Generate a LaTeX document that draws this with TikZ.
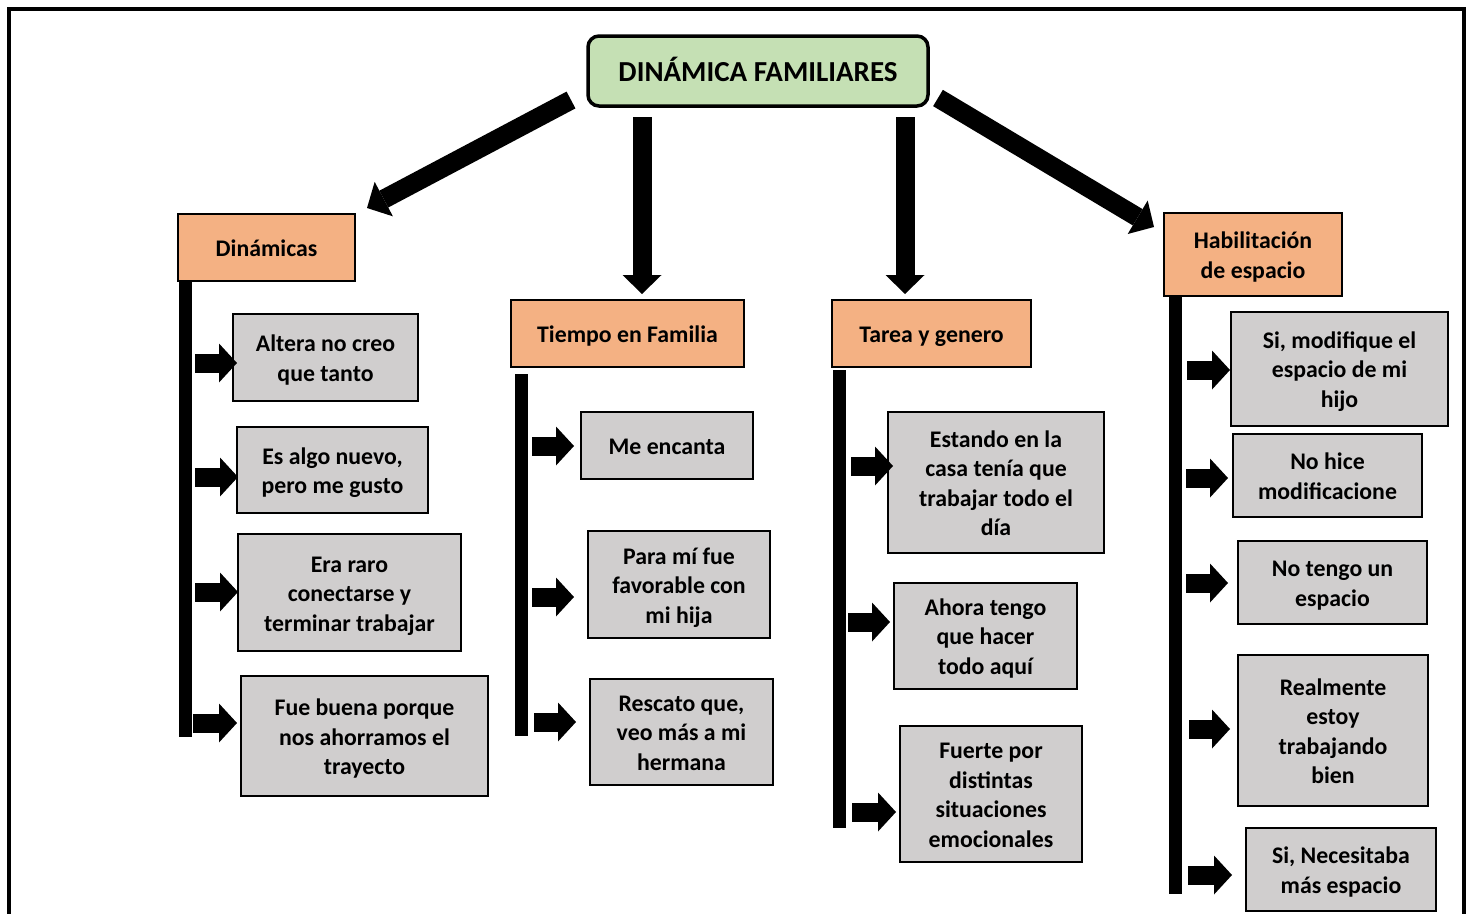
\documentclass[tikz,border=0pt]{standalone}
\usepackage{fontspec}
\setmainfont{Carlito}
\usetikzlibrary{arrows.meta}
\definecolor{gboxc}{HTML}{D0CECE}
\definecolor{oboxc}{HTML}{F4B183}
\definecolor{tboxc}{HTML}{C5E0B4}
\newcommand{\FTop}{\rule{0pt}{25pt}}
\newcommand{\FBot}{\rule[-7pt]{0pt}{7pt}}
\newcommand{\TTop}{\rule{0pt}{27pt}}
\begin{document}
\begin{tikzpicture}[x=1pt,y=-1pt,
  txt/.style={font=\fontsize{23.8}{29.5}\selectfont\bfseries, align=center, inner sep=0pt, text=black},
  gbox/.style={txt, draw=black, line width=2pt, fill=gboxc},
  obox/.style={txt, draw=black, line width=2pt, fill=oboxc},
  tbox/.style={font=\fontsize{29}{35}\selectfont\bfseries, align=center, inner sep=0pt, draw=black, line width=3.5pt, fill=tboxc, rounded corners=11pt},
  bigarrow/.style={line width=19pt, -{Triangle[length=19pt,width=39pt,line width=0pt]}},
  smallarrow/.style={line width=19pt, -{Triangle[length=18pt,width=39pt,line width=0pt]}},
  colbar/.style={line width=13pt},
  frameline/.style={line width=4pt}
]
\useasboundingbox (0,0) rectangle (1472,913);
\clip (0,0) rectangle (1472,913);

% frame
\draw[frameline] (9,930) -- (9,9) -- (1464,9) -- (1464,930);

% title
\node[tbox, minimum width=340pt, minimum height=70pt] (title) at (758,71) {\TTop DINÁMICA FAMILIARES\FBot};

% categories
\node[obox, minimum width=177pt, minimum height=67pt] (cat1) at (266.5,247.5) {\FTop Dinámicas\FBot};
\node[obox, minimum width=233pt, minimum height=67pt] (cat2) at (627.5,333.5) {\FTop Tiempo en Familia\FBot};
\node[obox, minimum width=199pt, minimum height=67pt] (cat3) at (931.5,333.5) {\FTop Tarea y genero\FBot};
\node[obox, minimum width=178pt, minimum height=83pt] (cat4) at (1253,254.5) {\FTop Habilitación\\de espacio\FBot};

% big arrows
\coordinate (t1s) at (571,100);
\coordinate (t2s) at (642,117);
\coordinate (t3s) at (905,117);
\coordinate (t4s) at (938,98);
\coordinate (t1e) at (367,208);
\coordinate (t2e) at (642,294);
\coordinate (t3e) at (905,294);
\coordinate (t4e) at (1154,227);
\draw[bigarrow] (t1s) -- (t1e);
\draw[bigarrow] (t2s) -- (t2e);
\draw[bigarrow] (t3s) -- (t3e);
\draw[bigarrow] (t4s) -- (t4e);

% column bars
\coordinate (b1e) at (185.5,737);
\coordinate (b2e) at (521,736);
\coordinate (b3e) at (839,828);
\coordinate (b4e) at (1175,894);
\draw[colbar] (b1e |- cat1.south) -- (b1e);
\draw[colbar] (521,374) -- (b2e);
\draw[colbar] (839,370) -- (b3e);
\draw[colbar] (b4e |- cat4.south) -- (b4e);

% column 1 items
\node[gbox, minimum width=185pt, minimum height=87pt] (a1) at (325.5,357.5) {\FTop Altera no creo\\que tanto\FBot};
\node[gbox, minimum width=191pt, minimum height=86pt] (a2) at (332.5,470) {\FTop Es algo nuevo,\\pero me gusto\FBot};
\node[gbox, minimum width=223pt, minimum height=117pt] (a3) at (349.5,592.5) {\FTop Era raro\\conectarse y\\terminar trabajar\FBot};
\node[gbox, minimum width=247pt, minimum height=120pt] (a4) at (364.5,736) {\FTop Fue buena porque\\nos ahorramos el\\trayecto\FBot};

% column 2 items
\node[gbox, minimum width=172pt, minimum height=67pt] (b1) at (667,445.5) {\FTop Me encanta\FBot};
\node[gbox, minimum width=182pt, minimum height=107pt] (b2) at (679,584.5) {\FTop Para mí fue\\favorable con\\mi hija\FBot};
\node[gbox, minimum width=183pt, minimum height=106pt] (b3) at (681.5,731.5) {\FTop Rescato que,\\veo más a mi\\hermana\FBot};

% column 3 items
\node[gbox, minimum width=216pt, minimum height=141pt] (c1) at (996,482.5) {\FTop Estando en la\\casa tenía que\\trabajar todo el\\día\FBot};
\node[gbox, minimum width=183pt, minimum height=106pt] (c2) at (985.5,635.5) {\FTop Ahora tengo\\que hacer\\todo aquí\FBot};
\node[gbox, minimum width=182pt, minimum height=136pt] (c3) at (991,794) {\FTop Fuerte por\\distintas\\situaciones\\emocionales\FBot};

% column 4 items
\node[gbox, minimum width=217pt, minimum height=114pt] (d1) at (1339.5,368.5) {\FTop Si, modifique el\\espacio de mi\\hijo\FBot};
\node[gbox, minimum width=189pt, minimum height=83pt] (d2) at (1327.5,475.5) {\FTop No hice\\modificacione\FBot};
\node[gbox, minimum width=189pt, minimum height=83pt] (d3) at (1332.5,582.5) {\FTop No tengo un\\espacio\FBot};
\node[gbox, minimum width=190pt, minimum height=151pt] (d4) at (1333,730.5) {\FTop Realmente\\estoy\\trabajando\\bien\FBot};
\node[gbox, minimum width=190pt, minimum height=83pt] (d5) at (1341,869.5) {\FTop Si, Necesitaba\\más espacio\FBot};

% small arrows, column 1
\coordinate (sa1) at (195,363); \coordinate (ea1) at (237,363);
\coordinate (sa2) at (195,477); \coordinate (ea2) at (238,477);
\coordinate (sa3) at (195,592); \coordinate (ea3) at (238,592);
\coordinate (sa4) at (193,723); \coordinate (ea4) at (237,723);
\draw[smallarrow] (sa1) -- (ea1);
\draw[smallarrow] (sa2) -- (ea2);
\draw[smallarrow] (sa3) -- (ea3);
\draw[smallarrow] (sa4) -- (ea4);

% small arrows, column 2
\coordinate (sb1) at (532,446); \coordinate (eb1) at (574,446);
\coordinate (sb2) at (532,597); \coordinate (eb2) at (574,597);
\coordinate (sb3) at (534,722); \coordinate (eb3) at (576,722);
\draw[smallarrow] (sb1) -- (eb1);
\draw[smallarrow] (sb2) -- (eb2);
\draw[smallarrow] (sb3) -- (eb3);

% small arrows, column 3
\coordinate (sc1) at (851,466); \coordinate (ec1) at (893,466);
\coordinate (sc2) at (848,622); \coordinate (ec2) at (890,622);
\coordinate (sc3) at (852,812); \coordinate (ec3) at (896,812);
\draw[smallarrow] (sc1) -- (ec1);
\draw[smallarrow] (sc2) -- (ec2);
\draw[smallarrow] (sc3) -- (ec3);

% small arrows, column 4
\coordinate (sd1) at (1187,370); \coordinate (ed1) at (1230,370);
\coordinate (sd2) at (1186,478); \coordinate (ed2) at (1228,478);
\coordinate (sd3) at (1186,583); \coordinate (ed3) at (1228,583);
\coordinate (sd4) at (1189,729); \coordinate (ed4) at (1230,729);
\coordinate (sd5) at (1188,875); \coordinate (ed5) at (1232,875);
\draw[smallarrow] (sd1) -- (ed1);
\draw[smallarrow] (sd2) -- (ed2);
\draw[smallarrow] (sd3) -- (ed3);
\draw[smallarrow] (sd4) -- (ed4);
\draw[smallarrow] (sd5) -- (ed5);
\end{tikzpicture}
\end{document}
